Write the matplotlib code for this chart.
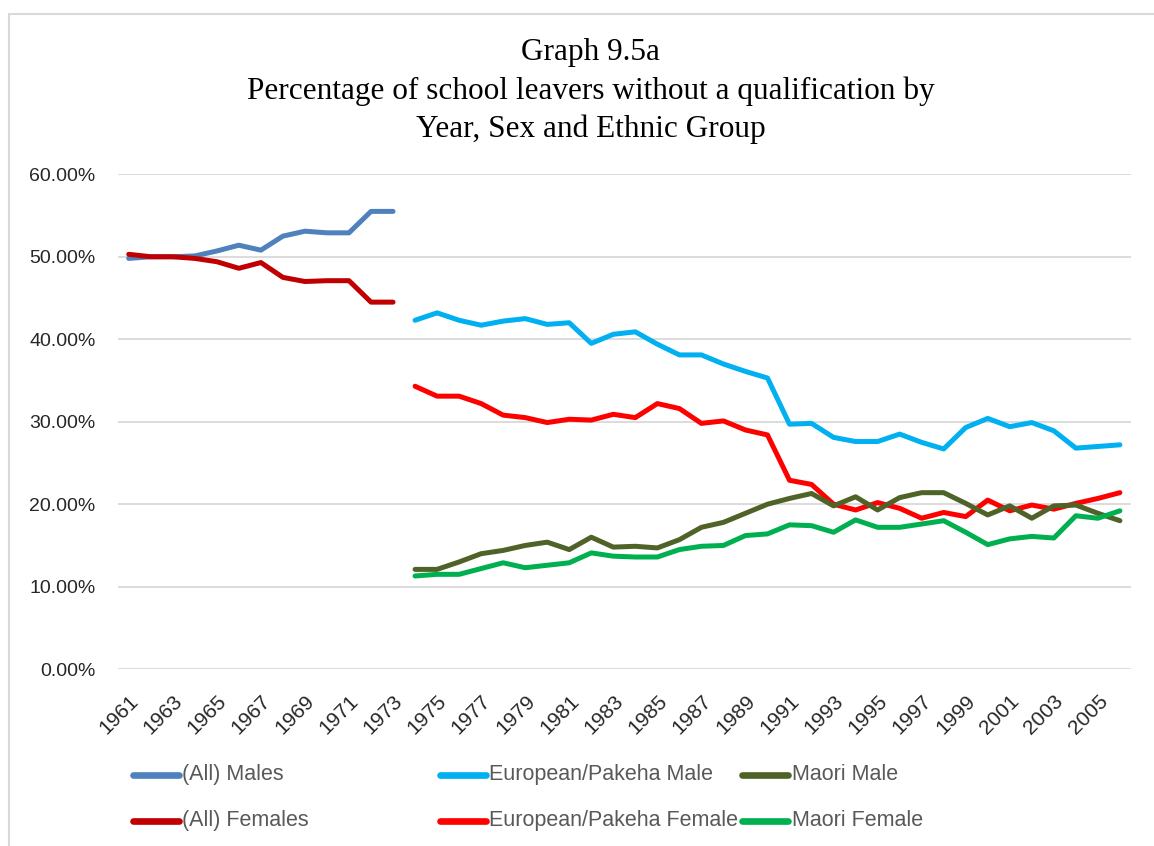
"""
Graph 9.5a — percentage of school leavers without a qualification
by year, sex and ethnic group.  ->  out.png
"""
import matplotlib
matplotlib.use("Agg")
import matplotlib.pyplot as plt
from matplotlib.lines import Line2D
from matplotlib.patches import Rectangle
from matplotlib.ticker import PercentFormatter

# ---- data (percent) -------------------------------------------------------
years_all = list(range(1961, 1974))
all_males = [49.8, 50.0, 50.0, 50.1, 50.7, 51.4, 50.8, 52.5, 53.1, 52.9, 52.9, 55.5, 55.5]
all_females = [50.3, 50.0, 50.0, 49.8, 49.4, 48.6, 49.3, 47.5, 47.0, 47.1, 47.1, 44.5, 44.5]

years_eth = list(range(1974, 2007))
euro_male = [42.3, 43.2, 42.3, 41.7, 42.2, 42.5, 41.8, 42.0, 39.5, 40.6, 40.9, 39.4, 38.1,
             38.1, 37.0, 36.1, 35.3, 29.7, 29.8, 28.1, 27.6, 27.6, 28.5, 27.5, 26.7, 29.3,
             30.4, 29.4, 29.9, 28.9, 26.8, 27.0, 27.2]
euro_female = [34.3, 33.1, 33.1, 32.2, 30.8, 30.5, 29.9, 30.3, 30.2, 30.9, 30.5, 32.2, 31.6,
               29.8, 30.1, 29.0, 28.4, 22.9, 22.4, 20.0, 19.3, 20.2, 19.5, 18.3, 19.0, 18.5,
               20.5, 19.2, 19.9, 19.4, 20.1, 20.7, 21.4]
maori_male = [12.1, 12.1, 13.0, 14.0, 14.4, 15.0, 15.4, 14.5, 16.0, 14.8, 14.9, 14.7, 15.7,
              17.2, 17.8, 18.9, 20.0, 20.7, 21.3, 19.8, 20.9, 19.3, 20.8, 21.4, 21.4, 20.1,
              18.7, 19.8, 18.3, 19.8, 19.9, 18.9, 18.0]
maori_female = [11.3, 11.5, 11.5, 12.2, 12.9, 12.3, 12.6, 12.9, 14.1, 13.7, 13.6, 13.6, 14.5,
                14.9, 15.0, 16.2, 16.4, 17.5, 17.4, 16.6, 18.1, 17.2, 17.2, 17.6, 18.0, 16.6,
                15.1, 15.8, 16.1, 15.9, 18.6, 18.3, 19.2]

tick_years = list(range(1961, 2006, 2))

# (label, x, y, colour) in legend order: row by row
SERIES = [
    ("(All) Males", years_all, all_males, "#4F81BD"),
    ("European/Pakeha Male", years_eth, euro_male, "#00B0F0"),
    ("Maori Male", years_eth, maori_male, "#4F6228"),
    ("(All) Females", years_all, all_females, "#C00000"),
    ("European/Pakeha Female", years_eth, euro_female, "#FF0000"),
    ("Maori Female", years_eth, maori_female, "#00B050"),
]

SANS = ["Liberation Sans", "DejaVu Sans"]


def main():
    fig = plt.figure(figsize=(11.54, 8.46), dpi=100)
    ax = fig.add_axes([0.102, 0.209, 0.878, 0.585])

    draw_order = [0, 3, 1, 4, 2, 5]
    for i in draw_order:
        label, xs, ys, color = SERIES[i]
        ax.plot(xs, ys, color=color, linewidth=3.6, solid_capstyle="round",
                solid_joinstyle="round", label=label, zorder=3)

    ax.set_xlim(1960.5, 2006.5)
    ax.set_ylim(0, 60)
    ax.set_yticks(range(0, 61, 10))
    ax.yaxis.set_major_formatter(PercentFormatter(decimals=2))
    ax.set_xticks(tick_years)
    ax.set_xticklabels([str(y) for y in tick_years], rotation=45, ha="right",
                       rotation_mode="anchor")
    ax.grid(axis="y", color="#D9D9D9", linewidth=1.3)
    ax.set_axisbelow(True)
    for s in ax.spines.values():
        s.set_visible(False)
    ax.tick_params(length=0, labelsize=14, colors="#262626")
    ax.tick_params(axis="x", pad=16, labelsize=15)
    ax.tick_params(axis="y", pad=16)
    for t in ax.get_xticklabels() + ax.get_yticklabels():
        t.set_family(SANS)

    # title
    fig.text(0.512, 0.892, "Graph 9.5a\nPercentage of school leavers without a qualification by\n"
             "Year, Sex and Ethnic Group", ha="center", va="center", fontsize=22.5,
             family=["Liberation Serif", "DejaVu Serif"], linespacing=1.4)

    # legend, three equal-width columns like Excel
    col_x = [0.115, 0.381, 0.643]
    row_y = [0.084, 0.030]
    for i, (label, _, _, color) in enumerate(SERIES):
        x0 = col_x[i % 3]
        y0 = row_y[i // 3]
        fig.add_artist(Line2D([x0, x0 + 0.040], [y0, y0], color=color, linewidth=4.8,
                              solid_capstyle="round"))
        fig.text(x0 + 0.043, y0, label, ha="left", va="center", fontsize=15.5,
                 color="#595959", family=SANS)

    # chart-area frame (cut off at right/bottom in the original screenshot)
    fig.add_artist(Rectangle((9 / 1154, -0.01), 1.0, 1 - 14 / 846 + 0.01,
                             transform=fig.transFigure, fill=False,
                             edgecolor="#D9D9D9", linewidth=1.5))

    fig.savefig("out.png", dpi=100)
    plt.close(fig)


if __name__ == "__main__":
    main()
